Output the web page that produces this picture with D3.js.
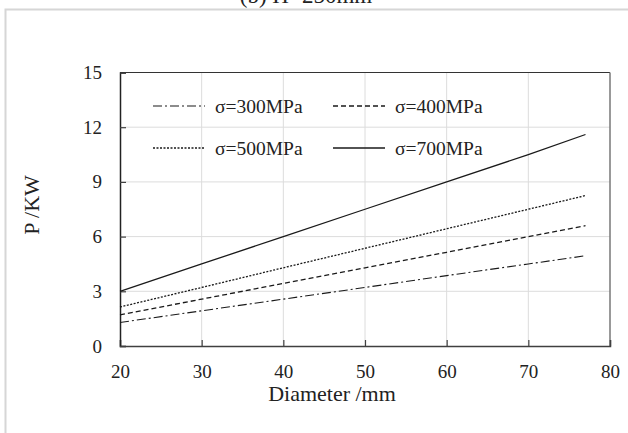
<!DOCTYPE html>
<html>
<head>
<meta charset="utf-8">
<script src="https://cdn.jsdelivr.net/npm/d3@7"></script>
<style>
  html, body { margin: 0; padding: 0; background: #fff; }
  svg { display: block; }
  text { font-family: "Liberation Serif", "Times New Roman", serif; fill: #222; }
</style>
</head>
<body>
<svg id="chart" width="628" height="433"></svg>
<script>
// Transmitted power vs. shaft diameter for four allowable stresses
const diameters = [20, 30, 40, 50, 60, 70, 77];
const p300 = [1.29, 1.93, 2.57, 3.21, 3.86, 4.50, 4.95];
const p400 = [1.71, 2.57, 3.43, 4.29, 5.14, 6.00, 6.60];
const p500 = [2.14, 3.21, 4.29, 5.36, 6.43, 7.50, 8.25];
const p700 = [3.00, 4.50, 6.00, 7.50, 9.00, 10.50, 11.60];

const seriesNames = ["σ=300MPa", "σ=400MPa", "σ=500MPa", "σ=700MPa"];
const xTicks = [20, 30, 40, 50, 60, 70, 80];
const yTicks = [0, 3, 6, 9, 12, 15];

const series = [
  { name: seriesNames[0], values: p300, dash: "9,3,2,3", width: 1.1 },
  { name: seriesNames[1], values: p400, dash: "5,3", width: 1.3 },
  { name: seriesNames[2], values: p500, dash: "2,1.5", width: 1.3 },
  { name: seriesNames[3], values: p700, dash: null, width: 1.3 }
];

const svg = d3.select("#chart");
const m = { left: 120, right: 610, top: 72.5, bottom: 346 };

// outer chart frame
svg.append("rect")
  .attr("x", 5.5).attr("y", 9.5)
  .attr("width", 640).attr("height", 440)
  .attr("fill", "none").attr("stroke", "#d6d6d6").attr("stroke-width", 2);

// panel caption (sits above the frame)
svg.append("text")
  .attr("x", 306).attr("y", 3)
  .attr("text-anchor", "middle")
  .attr("font-size", 23)
  .text("(b) H=250mm");

const x = d3.scaleLinear().domain([20, 80]).range([m.left, m.right]);
const y = d3.scaleLinear().domain([0, 15]).range([m.bottom, m.top]);

// grid
const grid = svg.append("g");
grid.selectAll("line.gx").data(xTicks.slice(1, -1)).join("line")
  .attr("x1", d => x(d)).attr("x2", d => x(d))
  .attr("y1", m.top).attr("y2", m.bottom)
  .attr("stroke", "#dcdcdc").attr("stroke-width", 1);
grid.selectAll("line.gy").data(yTicks.slice(1, -1)).join("line")
  .attr("x1", m.left).attr("x2", m.right)
  .attr("y1", d => y(d)).attr("y2", d => y(d))
  .attr("stroke", "#dcdcdc").attr("stroke-width", 1);

// plot border (top and right)
svg.append("line").attr("x1", m.left).attr("x2", m.right)
  .attr("y1", m.top).attr("y2", m.top)
  .attr("stroke", "#333").attr("stroke-width", 1.2);
svg.append("line").attr("x1", m.right).attr("x2", m.right)
  .attr("y1", m.top).attr("y2", m.bottom)
  .attr("stroke", "#777").attr("stroke-width", 1.5);

// axes with inward ticks
const xAxis = d3.axisBottom(x).tickValues(xTicks).tickSize(-6).tickPadding(19)
  .tickFormat(d3.format("d"));
const gx = svg.append("g").attr("transform", `translate(0,${m.bottom})`).call(xAxis);
gx.select(".domain").attr("stroke", "#404040").attr("stroke-width", 1.5);
gx.selectAll(".tick line").attr("stroke", "#404040").attr("stroke-width", 1.2);
gx.selectAll(".tick text").attr("font-size", 19)
  .style("font-family", "Liberation Serif").attr("fill", "#222");

const yAxis = d3.axisLeft(y).tickValues(yTicks).tickSize(-6).tickPadding(18)
  .tickFormat(d3.format("d"));
const gy = svg.append("g").attr("transform", `translate(${m.left},0)`).call(yAxis);
gy.select(".domain").attr("stroke", "#222").attr("stroke-width", 1.5);
gy.selectAll(".tick line").attr("stroke", "#404040").attr("stroke-width", 1.2);
gy.selectAll(".tick text").attr("font-size", 19)
  .style("font-family", "Liberation Serif").attr("fill", "#222");

// axis titles
svg.append("text")
  .attr("x", 332).attr("y", 401)
  .attr("text-anchor", "middle").attr("font-size", 22)
  .text("Diameter /mm");
svg.append("text")
  .attr("transform", "translate(39,205) rotate(-90)")
  .attr("text-anchor", "middle").attr("font-size", 22)
  .text("P /KW");

// series lines
const line = d3.line()
  .x((d, i) => x(diameters[i]))
  .y(d => y(d));

svg.append("g").selectAll("path").data(series).join("path")
  .attr("d", d => line(d.values))
  .attr("fill", "none")
  .attr("stroke", "#1a1a1a")
  .attr("stroke-width", d => d.width)
  .attr("stroke-dasharray", d => d.dash);

// legend, two columns
const legendPos = [
  { lx: 153, ly: 106 }, { lx: 333, ly: 106 },
  { lx: 153, ly: 148 }, { lx: 333, ly: 148 }
];
const lg = svg.append("g");
series.forEach((s, i) => {
  const p = legendPos[i];
  lg.append("line")
    .attr("x1", p.lx).attr("x2", p.lx + 52)
    .attr("y1", p.ly).attr("y2", p.ly)
    .attr("stroke", "#1a1a1a").attr("stroke-width", s.width)
    .attr("stroke-dasharray", s.dash);
  lg.append("text")
    .attr("x", p.lx + 62).attr("y", p.ly + 7)
    .attr("font-size", 19.5)
    .text(s.name);
});
</script>
</body>
</html>
